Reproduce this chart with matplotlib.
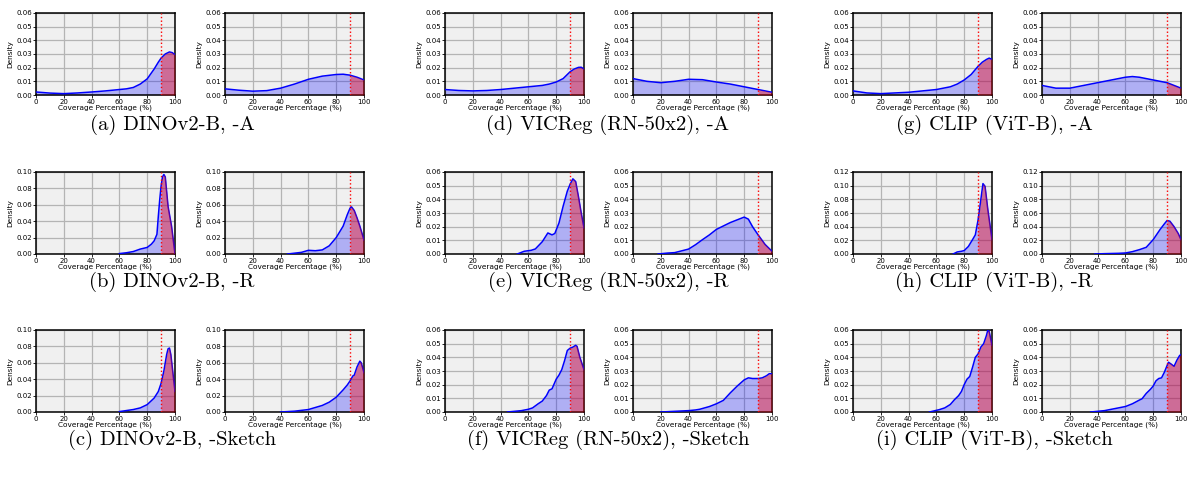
import matplotlib
matplotlib.use("Agg")
import matplotlib.pyplot as plt
import numpy as np

# density curves, read at coverage percentages (x) with density values (y)
dino_a1_x = [0, 10, 20, 30, 40, 50, 60, 65, 70, 75, 80, 85, 88, 90, 93, 96, 98, 100]
dino_a1_y = [0.0022, 0.0014, 0.001, 0.0015, 0.0022, 0.003, 0.004, 0.0045, 0.0055, 0.008, 0.0118, 0.019, 0.024, 0.027, 0.030, 0.0315, 0.031, 0.0295]
dino_a2_x = [0, 10, 20, 30, 40, 50, 60, 70, 80, 85, 90, 95, 100]
dino_a2_y = [0.0045, 0.0035, 0.0028, 0.0032, 0.005, 0.008, 0.0115, 0.0138, 0.015, 0.0152, 0.0145, 0.013, 0.011]

vic_a1_x = [0, 10, 20, 30, 40, 50, 60, 70, 75, 80, 85, 88, 90, 93, 96, 98, 100]
vic_a1_y = [0.004, 0.0033, 0.003, 0.0033, 0.004, 0.005, 0.006, 0.007, 0.008, 0.0095, 0.012, 0.015, 0.017, 0.019, 0.0202, 0.0203, 0.019]
vic_a2_x = [0, 10, 20, 30, 40, 50, 60, 70, 80, 90, 95, 100]
vic_a2_y = [0.012, 0.010, 0.009, 0.010, 0.0115, 0.0112, 0.0095, 0.008, 0.006, 0.004, 0.003, 0.002]

clip_a1_x = [0, 10, 20, 30, 40, 50, 60, 70, 75, 80, 85, 90, 93, 96, 98, 100]
clip_a1_y = [0.003, 0.0015, 0.001, 0.0015, 0.002, 0.003, 0.004, 0.006, 0.008, 0.011, 0.015, 0.021, 0.024, 0.026, 0.027, 0.026]
clip_a2_x = [0, 10, 20, 30, 40, 50, 60, 65, 70, 80, 90, 95, 100]
clip_a2_y = [0.007, 0.005, 0.005, 0.007, 0.009, 0.011, 0.013, 0.0135, 0.013, 0.011, 0.009, 0.007, 0.005]

dino_r1_x = [60, 65, 70, 75, 80, 83, 85, 87, 88, 89, 90, 91, 92, 93, 95, 97.5, 100]
dino_r1_y = [0.0005, 0.0015, 0.003, 0.006, 0.008, 0.012, 0.016, 0.024, 0.046, 0.066, 0.083, 0.094, 0.097, 0.094, 0.058, 0.034, 0.0]
dino_r2_x = [45, 50, 55, 60, 65, 70, 75, 80, 85, 88, 90, 91, 93, 95, 97, 100]
dino_r2_y = [0.0, 0.001, 0.002, 0.0045, 0.004, 0.005, 0.010, 0.020, 0.034, 0.048, 0.056, 0.0575, 0.053, 0.044, 0.034, 0.017]

vic_r1_x = [52, 57, 62, 65, 70, 74, 77, 79, 82, 85, 88, 90, 92, 94, 96, 98, 100]
vic_r1_y = [0.0, 0.002, 0.0027, 0.0037, 0.009, 0.0154, 0.014, 0.015, 0.0227, 0.035, 0.046, 0.051, 0.055, 0.053, 0.042, 0.030, 0.019]
vic_r2_x = [18, 25, 30, 40, 45, 50, 55, 60, 65, 70, 75, 80, 83, 86, 90, 95, 100]
vic_r2_y = [0.0, 0.0007, 0.001, 0.0036, 0.0068, 0.0105, 0.014, 0.018, 0.0205, 0.023, 0.025, 0.027, 0.0255, 0.020, 0.014, 0.007, 0.002]

clip_r1_x = [72, 75, 78, 80, 83, 86, 88, 90, 92, 93.5, 95, 97, 100]
clip_r1_y = [0.0, 0.003, 0.004, 0.005, 0.011, 0.021, 0.028, 0.050, 0.080, 0.103, 0.099, 0.065, 0.021]
clip_r2_x = [38, 45, 55, 60, 65, 70, 75, 80, 85, 88, 90, 92, 95, 98, 100]
clip_r2_y = [0.0, 0.0005, 0.001, 0.0015, 0.0034, 0.0063, 0.0098, 0.021, 0.036, 0.044, 0.049, 0.048, 0.040, 0.030, 0.021]

dino_s1_x = [60, 70, 75, 80, 85, 88, 90, 92, 94, 95, 96, 97, 98, 100]
dino_s1_y = [0.0005, 0.003, 0.005, 0.009, 0.017, 0.025, 0.035, 0.050, 0.070, 0.077, 0.078, 0.070, 0.055, 0.025]
dino_s2_x = [40, 50, 60, 70, 75, 80, 85, 88, 90, 92, 93, 95, 97, 98, 100]
dino_s2_y = [0.0, 0.001, 0.003, 0.008, 0.012, 0.018, 0.027, 0.033, 0.038, 0.044, 0.045, 0.055, 0.062, 0.060, 0.048]

vic_s1_x = [45, 50, 55, 60, 63, 67, 70, 73, 75, 77, 80, 82, 84, 86, 88, 90, 92, 94, 95, 97, 100]
vic_s1_y = [0.0, 0.0005, 0.001, 0.002, 0.003, 0.006, 0.008, 0.012, 0.016, 0.017, 0.024, 0.027, 0.031, 0.0375, 0.045, 0.0467, 0.0475, 0.0488, 0.048, 0.040, 0.031]
vic_s2_x = [20, 30, 40, 45, 48, 55, 60, 65, 70, 75, 80, 83, 86, 90, 93, 96, 98, 100]
vic_s2_y = [0.0, 0.0005, 0.001, 0.0015, 0.002, 0.004, 0.006, 0.0085, 0.014, 0.019, 0.0235, 0.025, 0.0245, 0.0245, 0.025, 0.0265, 0.028, 0.028]

clip_s1_x = [55, 62, 66, 70, 73, 76, 78, 80, 82, 84, 86, 88, 90, 92, 94, 96, 97, 98, 100]
clip_s1_y = [0.0, 0.0017, 0.003, 0.0055, 0.009, 0.012, 0.015, 0.020, 0.024, 0.026, 0.0327, 0.040, 0.0425, 0.0475, 0.050, 0.056, 0.060, 0.0587, 0.0488]
clip_s2_x = [35, 40, 45, 50, 55, 60, 65, 70, 72, 75, 78, 80, 82, 84, 86, 88, 90, 91, 93, 95, 97, 99, 100]
clip_s2_y = [0.0, 0.0005, 0.001, 0.002, 0.003, 0.004, 0.006, 0.0087, 0.0097, 0.0136, 0.0166, 0.019, 0.0228, 0.0245, 0.025, 0.029, 0.034, 0.0364, 0.035, 0.0334, 0.0378, 0.0413, 0.042]

captions = [
    ["(a) DINOv2-B, -A", "(d) VICReg (RN-50x2), -A", "(g) CLIP (ViT-B), -A"],
    ["(b) DINOv2-B, -R", "(e) VICReg (RN-50x2), -R", "(h) CLIP (ViT-B), -R"],
    ["(c) DINOv2-B, -Sketch", "(f) VICReg (RN-50x2), -Sketch", "(i) CLIP (ViT-B), -Sketch"],
]
ymax = [[0.06, 0.06, 0.06], [0.10, 0.06, 0.12], [0.10, 0.06, 0.06]]
threshold = 90

curves = [
    [[(dino_a1_x, dino_a1_y), (dino_a2_x, dino_a2_y)],
     [(vic_a1_x, vic_a1_y), (vic_a2_x, vic_a2_y)],
     [(clip_a1_x, clip_a1_y), (clip_a2_x, clip_a2_y)]],
    [[(dino_r1_x, dino_r1_y), (dino_r2_x, dino_r2_y)],
     [(vic_r1_x, vic_r1_y), (vic_r2_x, vic_r2_y)],
     [(clip_r1_x, clip_r1_y), (clip_r2_x, clip_r2_y)]],
    [[(dino_s1_x, dino_s1_y), (dino_s2_x, dino_s2_y)],
     [(vic_s1_x, vic_s1_y), (vic_s2_x, vic_s2_y)],
     [(clip_s1_x, clip_s1_y), (clip_s2_x, clip_s2_y)]],
]

W, H = 1188, 478
fig = plt.figure(figsize=(W / 100, H / 100), dpi=100)

lefts = [[36, 225], [445, 633], [853, 1042]]
tops = [13, 172, 330]
aw, ah = 139, 82
cap_x = [172, 608, 994]
cap_base = [130, 287, 445]


def draw(ax, x, y, top):
    x = np.array(x)
    y = np.array(y)
    ax.set_facecolor("#f0f0f0")
    ax.grid(True, color="#b4b4b4", linewidth=0.9)
    ax.set_axisbelow(True)
    ax.fill_between(x, y, color="blue", alpha=0.27, linewidth=0, zorder=2)
    ax.plot(x, y, color="blue", linewidth=1.1, zorder=3)
    m = x >= threshold
    ax.fill_between(x[m], y[m], color="red", alpha=0.38, linewidth=0, zorder=4)
    ax.axvline(threshold, color="red", linestyle=":", linewidth=1.0, zorder=5)
    ax.set_xlim(0, 100)
    ax.set_ylim(0, top)
    ax.set_xticks(range(0, 101, 20))
    step = 0.01 if top <= 0.06 else 0.02
    ax.set_yticks(np.arange(0, top + 1e-9, step))
    ax.yaxis.set_major_formatter(matplotlib.ticker.FormatStrFormatter("%.2f"))
    ax.tick_params(labelsize=5, length=2, width=0.6, pad=0.8)
    for s in ax.spines.values():
        s.set_linewidth(1.1)
    ax.set_xlabel("Coverage Percentage (%)", fontsize=5.3, labelpad=0)
    ax.set_ylabel("Density", fontsize=5.3, labelpad=2)


for r in range(3):
    for c in range(3):
        for k in range(2):
            left = lefts[c][k] / W
            bottom = 1 - (tops[r] + ah) / H
            ax = fig.add_axes([left, bottom, aw / W, ah / H])
            x, y = curves[r][c][k]
            draw(ax, x, y, ymax[r][c])
        fig.text(cap_x[c] / W, 1 - cap_base[r] / H, captions[r][c],
                 ha="center", va="baseline", fontsize=14.8, family="cmr10")

fig.savefig("out.png", dpi=100)
